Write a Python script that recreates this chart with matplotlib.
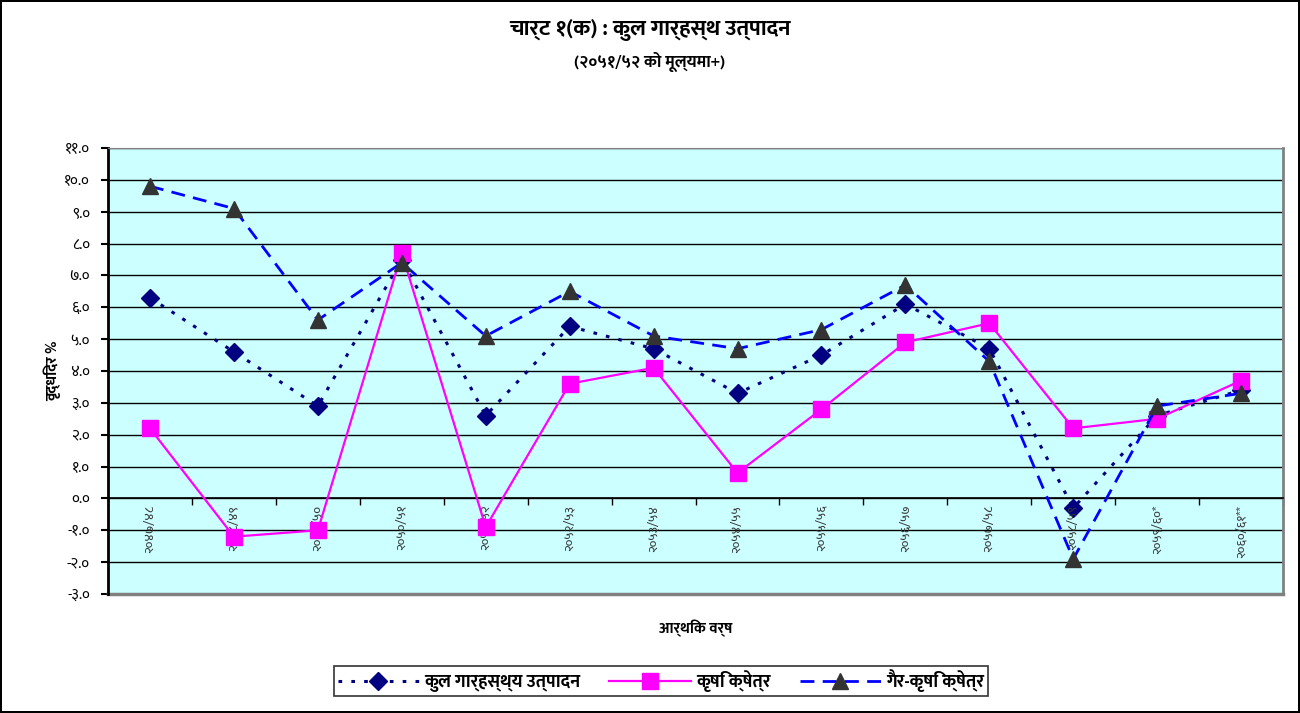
import matplotlib
matplotlib.use("Agg")
import matplotlib.pyplot as plt
import numpy as np
from matplotlib.ticker import FuncFormatter

plt.rcParams['font.family'] = ['Mukta', 'Noto Sans Devanagari', 'DejaVu Sans']

years = ['२०४७/४८', '२०४८/४९', '२०४९/५०', '२०५०/५१', '२०५१/५२', '२०५२/५३', '२०५३/५४',
         '२०५४/५५', '२०५५/५६', '२०५६/५७', '२०५७/५८', '२०५८/५९', '२०५९/६०*', '२०६०/६१**']
gdp = [6.3, 4.6, 2.9, 7.5, 2.6, 5.4, 4.7, 3.3, 4.5, 6.1, 4.7, -0.3, 2.6, 3.4]
agri = [2.2, -1.2, -1.0, 7.7, -0.9, 3.6, 4.1, 0.8, 2.8, 4.9, 5.5, 2.2, 2.5, 3.7]
nonagri = [9.8, 9.1, 5.6, 7.4, 5.1, 6.5, 5.1, 4.7, 5.3, 6.7, 4.3, -1.9, 2.9, 3.3]

labels = ['कुल गार्हस्थ्य उत्पादन', 'कृषि क्षेत्र', 'गैर-कृषि क्षेत्र']

DEV = str.maketrans('0123456789', '०१२३४५६७८९')


def dev_fmt(v, pos):
    return f'{v:.1f}'.translate(DEV)


fig = plt.figure(figsize=(13, 7.13), dpi=100)
fig.patch.set_edgecolor('black')
fig.patch.set_linewidth(1.5)
ax = fig.add_axes([0.0831, 0.1669, 0.9039, 0.6255])
ax.set_facecolor('#CCFFFF')

x = np.arange(len(years))
ax.plot(x, gdp, color='#000080', linestyle=(0, (1.2, 3)), linewidth=2.2,
        marker='D', markersize=9, markerfacecolor='#000080', markeredgecolor='#000080',
        label=labels[0], zorder=3)
ax.plot(x, agri, color='#FF00FF', linestyle='-', linewidth=1.6,
        marker='s', markersize=11, markerfacecolor='#FF00FF', markeredgecolor='#FF00FF',
        label=labels[1], zorder=4)
ax.plot(x, nonagri, color='#0000FF', linestyle=(0, (5, 3)), linewidth=2,
        marker='^', markersize=12, markerfacecolor='#333333', markeredgecolor='#333333',
        label=labels[2], zorder=5)

ax.set_xlim(-0.5, len(years) - 0.5)
ax.set_ylim(-3, 11)
ax.set_yticks(np.arange(-3, 12, 1))
ax.yaxis.set_major_formatter(FuncFormatter(dev_fmt))
ax.grid(axis='y', color='black', linewidth=1)
ax.set_axisbelow(True)

# category boundaries carry the ticks, names sit between them
ax.set_xticks(np.arange(-0.5, len(years), 1))
ax.set_xticklabels([])
ax.tick_params(axis='x', direction='out', length=5, width=1)
ax.tick_params(axis='y', direction='out', length=5, width=1.5, labelsize=11, pad=8)

ax.spines['bottom'].set_position(('data', 0))
ax.spines['bottom'].set_linewidth(1.2)
ax.spines['left'].set_linewidth(2)
ax.spines['top'].set_color('#808080')
ax.spines['right'].set_color('#808080')
ax.spines['right'].set_linewidth(2)
ax.axhline(-3, color='#808080', linewidth=2.5, zorder=2, clip_on=False)

for i, yr in enumerate(years):
    ax.text(i, -0.2, yr, rotation=90, ha='center', va='top', fontsize=9.5, color='#333333')

ax.set_ylabel('वृद्धिदर %', fontsize=11, fontweight='bold', labelpad=2)
fig.text(0.535, 1 - 628 / 713, 'आर्थिक वर्ष', ha='center', va='center',
         fontsize=11, fontweight='bold')

fig.text(0.5, 1 - 30 / 713, 'चार्ट १(क) : कुल गार्हस्थ उत्पादन', ha='center', va='center',
         fontsize=16, fontweight='bold')
fig.text(0.5, 1 - 62 / 713, '(२०५१/५२ को मूल्यमा+)', ha='center', va='center',
         fontsize=12, fontweight='bold')

leg = fig.legend(loc='center', bbox_to_anchor=(661 / 1300, 1 - 681 / 713), ncol=3,
                 prop={'size': 13, 'weight': 'bold'}, frameon=True, fancybox=False,
                 edgecolor='black', handlelength=4.5, handletextpad=0.3,
                 columnspacing=1.6, borderpad=0.2, borderaxespad=0.2)
leg.get_frame().set_linewidth(1.2)

fig.savefig('out.png', dpi=100)
